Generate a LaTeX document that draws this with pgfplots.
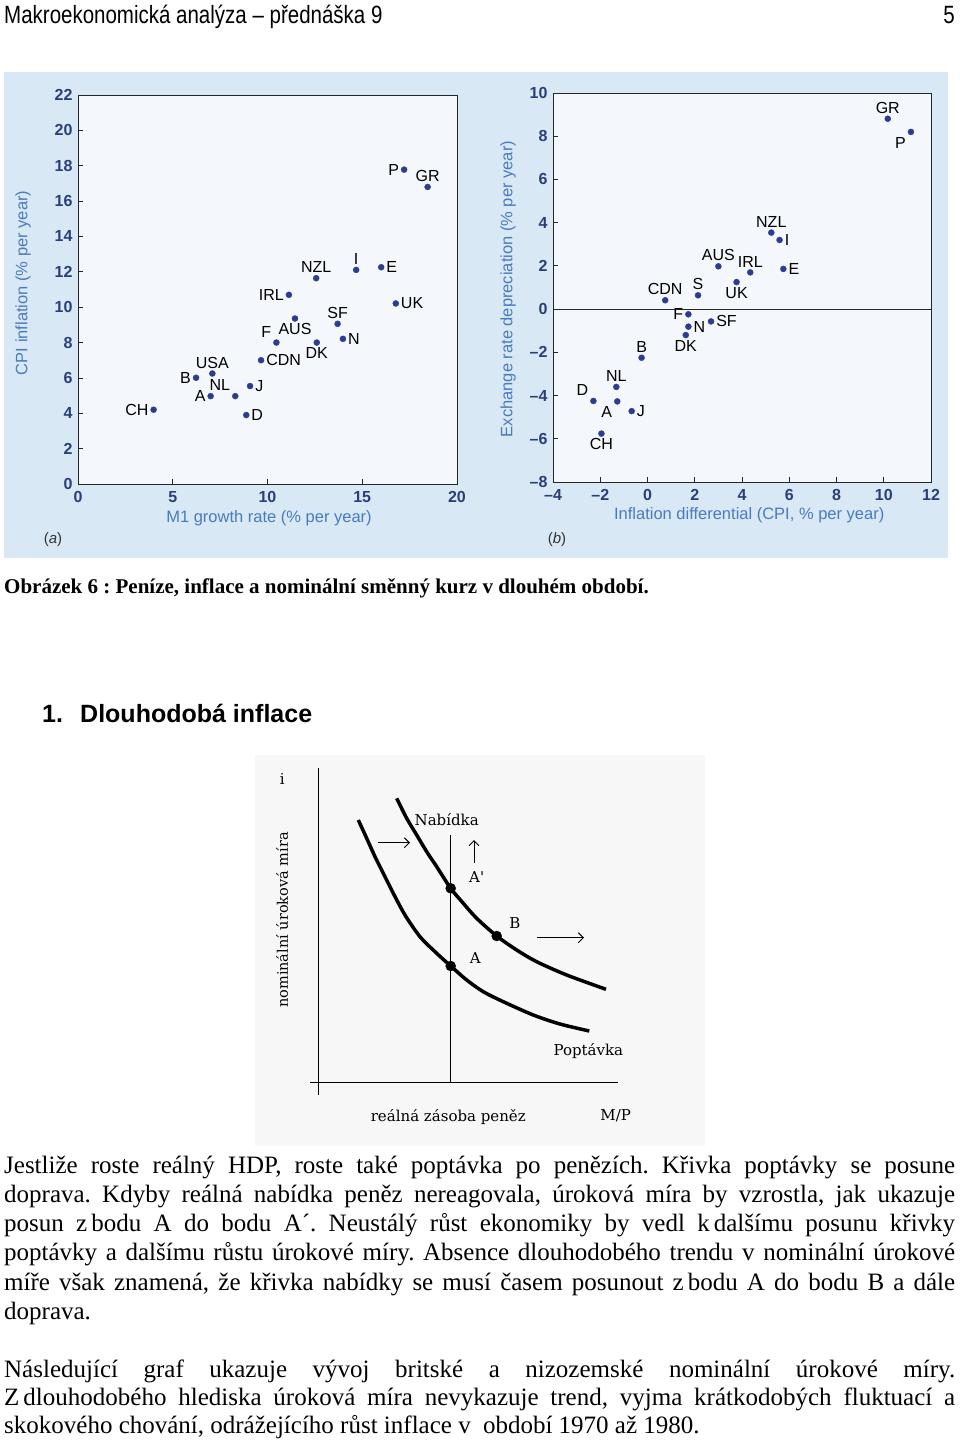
\documentclass[border=0pt]{standalone}
\usepackage{fontspec}
\usepackage{pgfplots}
\pgfplotsset{compat=1.18}
\usetikzlibrary{arrows.meta}
\setmainfont{Liberation Serif}
\newfontfamily\plotsans{Liberation Sans}
\newfontfamily\narrowsans[FakeStretch=0.82]{Liberation Sans}
\newfontfamily\diagfont{DejaVu Serif}
\definecolor{panel}{HTML}{D8E8F4}
\definecolor{plotbg}{HTML}{F4F7FB}
\definecolor{dotblue}{HTML}{2C3D91}
\definecolor{ticknavy}{HTML}{2A3F7A}
\definecolor{labelblue}{HTML}{4A7BBE}

\pgfplotsset{
  scat/.style={
    scale only axis, anchor=south west, clip=false,
    axis background/.style={fill=plotbg},
    axis line style={draw=black!85, line width=0.8pt},
    tick align=inside, xtick pos=bottom, ytick pos=left,
    major tick length=5pt,
    tick style={black!85, line width=0.8pt},
    /pgf/number format/assume math mode=true,
    ticklabel style={font=\plotsans\bfseries\fontsize{16}{16}\selectfont, text=ticknavy},
    xticklabel style={yshift=-4pt},
    yticklabel style={xshift=-2pt},
    label style={font=\plotsans\fontsize{16.5}{16.5}\selectfont, text=labelblue},
  },
  lab/.style={only marks, mark=*, mark size=3pt, color=dotblue,
    nodes near coords, point meta=explicit symbolic,
    every node near coord/.append style={anchor=#1, font=\plotsans\fontsize{16}{16}\selectfont, text=black, inner sep=5pt},
  },
}

\begin{document}
\frenchspacing
\begin{tikzpicture}[x=1pt,y=1pt]
\path[use as bounding box] (0,0) rectangle (960,-1443);
% header
\node[anchor=base west, inner sep=0] at (4,-23) {\narrowsans\fontsize{25}{25}\selectfont Makroekonomická analýza – přednáška 9};
\node[anchor=base east, inner sep=0] at (955,-23) {\narrowsans\fontsize{25}{25}\selectfont 5};
% blue panel
\fill[panel] (4,-72) rectangle (948,-558);

\begin{axis}[scat, at={(78pt,-484pt)}, width=379pt, height=389pt,
  xmin=0, xmax=20, ymin=0, ymax=22,
  xtick={0,5,10,15,20}, ytick={0,2,...,22},
  xlabel={M1 growth rate (\% per year)},
  ylabel={CPI inflation (\% per year)},
  xlabel style={at={(axis description cs:0.504,-0.087)}, anchor=center},
  ylabel style={at={(axis description cs:-0.145,0.517)}, anchor=center},
]
\addplot[lab=east] coordinates {(3.99,4.20) [CH] (6.23,6.01) [B] (7.00,4.97) [A] (11.13,10.70) [IRL] (17.21,17.78) [P]};
\addplot[lab=south] coordinates {(7.09,6.25) [USA] (12.57,11.64) [NZL] (13.70,9.06) [SF] (14.68,12.11) [I] (18.45,16.80) [GR]};
\addplot[lab=south east] coordinates {(8.30,4.97) [NL] (10.47,8.00) [F]};
\addplot[lab=west] coordinates {(9.08,5.54) [J] (8.88,3.90) [D] (9.66,7.00) [CDN] (13.98,8.21) [N] (16.00,12.26) [E] (16.77,10.21) [UK]};
\addplot[lab=north] coordinates {(11.45,9.36) [AUS] (12.60,8.00) [DK]};
\end{axis}

\begin{axis}[scat, at={(553pt,-482pt)}, width=378pt, height=389pt,
  xmin=-4, xmax=12, ymin=-8, ymax=10,
  xtick={-4,-2,...,12}, xticklabels={–4,–2,0,2,4,6,8,10,12},
  ytick={-8,-6,...,10}, yticklabels={–8,–6,–4,–2,0,2,4,6,8,10},
  xlabel={Inflation differential (CPI, \% per year)},
  ylabel={Exchange rate depreciation (\% per year)},
  xlabel style={at={(axis description cs:0.519,-0.085)}, anchor=center},
  ylabel style={at={(axis description cs:-0.119,0.496)}, anchor=center},
]
\addplot[black!85, line width=0.8pt, no marks] coordinates {(-4,0) (12,0)};
\addplot[lab=south] coordinates {(10.17,8.81) [GR] (5.24,3.54) [NZL] (3.00,1.98) [AUS] (4.35,1.70) [IRL] (2.14,0.64) [S] (0.75,0.41) [CDN] (-0.25,-2.25) [B] (-1.32,-3.60) [NL]};
\addplot[lab=north east] coordinates {(11.15,8.20) [P] (-1.28,-4.27) [A]};
\addplot[lab=west] coordinates {(5.59,3.20) [I] (5.75,1.86) [E] (1.73,-0.81) [N] (2.69,-0.57) [SF] (-0.67,-4.72) [J]};
\addplot[lab=north] coordinates {(3.77,1.25) [UK] (1.62,-1.20) [DK] (-1.95,-5.76) [CH]};
\addplot[lab=east] coordinates {(1.73,-0.24) [F]};
\addplot[lab=south east] coordinates {(-2.29,-4.25) [D]};
\end{axis}

\node[anchor=center, text=black!80] at (53,-540) {\plotsans\fontsize{15}{15}\selectfont (\textit{a})};
\node[anchor=center, text=black!80] at (557,-540) {\plotsans\fontsize{15}{15}\selectfont (\textit{b})};

% caption
\node[anchor=base west, inner sep=0] at (4,-593) {\fontsize{21}{21}\selectfont\bfseries Obrázek 6 : Peníze, inflace a nominální směnný kurz v dlouhém období.};
% heading
\node[anchor=base west, inner sep=0] at (42,-722) {\plotsans\fontsize{25}{25}\selectfont\bfseries 1.};
\node[anchor=base west, inner sep=0] at (80,-722) {\plotsans\fontsize{25}{25}\selectfont\bfseries Dlouhodobá inflace};

% diagram
\fill[black!3] (255,-755) rectangle (705,-1146);
\begin{axis}[at={(310pt,-1095pt)}, anchor=south west, scale only axis,
  width=310pt, height=327pt, xmin=310, xmax=620, ymin=-1095, ymax=-768,
  hide axis, clip=false]
\addplot[line width=3.5pt, smooth, no marks] coordinates {
(396.7,-798.3) (406.7,-818.3) (416.7,-835) (426.7,-851.7) (436.7,-866.7)
(450.7,-888.3) (463.3,-903.3) (476.7,-918.3) (496.7,-936) (516.7,-950)
(536.7,-961.7) (566.7,-975) (606,-989.3)};
\addplot[line width=3.5pt, smooth, no marks] coordinates {
(358.3,-820) (366.7,-838.3) (375,-856.7) (383.3,-873.3) (393.3,-893.3)
(405,-915) (420,-936.7) (436.7,-953.3) (450.7,-966) (466.7,-980)
(483.3,-991.7) (503.3,-1001.7) (533.3,-1015) (560,-1024) (589.3,-1031)};
\addplot[only marks, mark=*, mark size=5pt, black] coordinates {(450.7,-888.3) (496.7,-936) (450.7,-966)};
\draw[line width=1.3pt] (axis cs:318.3,-768) -- (axis cs:318.3,-1095);
\draw[line width=1.3pt] (axis cs:310,-1082.7) -- (axis cs:618,-1082.7);
\draw[line width=1.3pt] (axis cs:450.7,-835) -- (axis cs:450.7,-1082.7);
\draw[line width=1pt, -{Straight Barb[length=5pt,width=10pt]}] (axis cs:378.3,-842.7) -- (axis cs:410,-842.7);
\draw[line width=1pt, -{Straight Barb[length=5pt,width=10pt]}] (axis cs:474,-862.7) -- (axis cs:474,-840);
\draw[line width=1pt, -{Straight Barb[length=5pt,width=10pt]}] (axis cs:536.7,-937.7) -- (axis cs:584,-937.7);
\node[font=\diagfont\fontsize{15}{15}\selectfont] at (axis cs:282.3,-779.3) {i};
\node[font=\diagfont\fontsize{15}{15}\selectfont] at (axis cs:446.7,-820) {Nabídka};
\node[font=\diagfont\fontsize{15}{15}\selectfont] at (axis cs:476.7,-877) {A'};
\node[font=\diagfont\fontsize{15}{15}\selectfont] at (axis cs:515,-922.7) {B};
\node[font=\diagfont\fontsize{15}{15}\selectfont] at (axis cs:475.3,-958.3) {A};
\node[font=\diagfont\fontsize{15}{15}\selectfont] at (axis cs:588.3,-1051) {Poptávka};
\node[font=\diagfont\fontsize{15}{15}\selectfont] at (axis cs:448.3,-1116.7) {reálná zásoba peněz};
\node[font=\diagfont\fontsize{15}{15}\selectfont] at (axis cs:615.7,-1116) {M/P};
\node[font=\diagfont\fontsize{14.5}{14.5}\selectfont, rotate=90] at (axis cs:282.3,-920) {nominální úroková míra};
\end{axis}

% body text
\begin{scope}[every node/.style={anchor=base west, inner sep=0, font=\fontsize{25}{25}\selectfont\frenchspacing}]
\node at (4,-1173) {\hbox to 951pt{Jestliže roste reálný HDP, roste také poptávka po penězích. Křivka poptávky se posune}};
\node at (4,-1202) {\hbox to 951pt{doprava. Kdyby reálná nabídka peněz nereagovala, úroková míra by vzrostla, jak ukazuje}};
\node at (4,-1231) {\hbox to 951pt{posun z\kern4pt bodu A do bodu A´. Neustálý růst ekonomiky by vedl k\kern4pt dalšímu posunu křivky}};
\node at (4,-1260) {\hbox to 951pt{poptávky a dalšímu růstu úrokové míry. Absence dlouhodobého trendu v nominální úrokové}};
\node at (4,-1290) {\hbox to 951pt{míře však znamená, že křivka nabídky se musí časem posunout z\kern4pt bodu A do bodu B a dále}};
\node at (4,-1319) {doprava.};
\node at (4,-1377) {\hbox to 951pt{Následující graf ukazuje vývoj britské a nizozemské nominální úrokové míry.}};
\node at (4,-1405) {\hbox to 951pt{Z\kern4pt dlouhodobého hlediska úroková míra nevykazuje trend, vyjma krátkodobých fluktuací a}};
\node at (4,-1433) {skokového chování, odrážejícího růst inflace v\kern6pt\ období 1970 až 1980.};
\end{scope}
\end{tikzpicture}
\end{document}
